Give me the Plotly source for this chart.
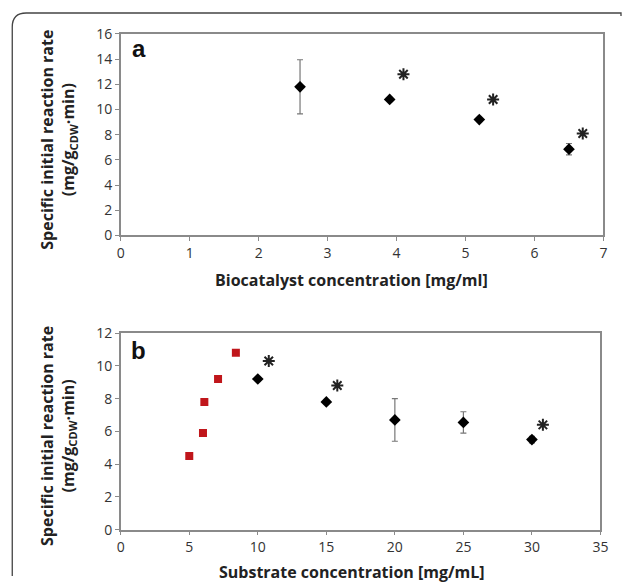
import plotly.graph_objects as go

W, H = 629, 585

# Panel a data
a_x = [2.6, 3.9, 5.2, 6.5]
a_y = [11.8, 10.8, 9.2, 6.85]
a_err = [2.15, 0.1, 0.1, 0.45]
a_star_x = [4.1, 5.4, 6.7]
a_star_y = [12.8, 10.8, 8.1]

# Panel b data
b_red_x = [5.0, 6.0, 6.1, 7.1, 8.4]
b_red_y = [4.5, 5.9, 7.8, 9.2, 10.8]
b_x = [10, 15, 20, 25, 30]
b_y = [9.2, 7.8, 6.7, 6.55, 5.5]
b_err = [0.1, 0.1, 1.3, 0.65, 0.2]
b_star_x = [10.8, 15.8, 30.8]
b_star_y = [10.3, 8.8, 6.4]

a_xticks = [0, 1, 2, 3, 4, 5, 6, 7]
a_yticks = [0, 2, 4, 6, 8, 10, 12, 14, 16]
b_xticks = [0, 5, 10, 15, 20, 25, 30, 35]
b_yticks = [0, 2, 4, 6, 8, 10, 12]

FONT = "Open Sans"


def px_x(p):
    # target pixel -> paper fraction (with empirical viewport correction)
    return min(max(((p - 1.7) / 0.9856) / W, 0), 1)


def px_y(p):
    return min(max(1 - ((p - 9) / 0.97) / H, 0), 1)


fig = go.Figure()

marker_d = dict(symbol="diamond", size=9, color="black")
err_style = dict(type="data", thickness=1.2, width=3, color="#777")
star_marker = dict(symbol="asterisk-open", size=10, color="#222", line=dict(width=2, color="#222"))

fig.add_trace(go.Scatter(x=a_x, y=a_y, mode="markers", marker=marker_d,
                         error_y=dict(array=a_err, **err_style),
                         xaxis="x", yaxis="y", showlegend=False))
fig.add_trace(go.Scatter(x=a_star_x, y=a_star_y, mode="markers", marker=star_marker,
                         xaxis="x", yaxis="y", showlegend=False))

fig.add_trace(go.Scatter(x=b_red_x, y=b_red_y, mode="markers",
                         marker=dict(symbol="square", size=8, color="#c0161b"),
                         xaxis="x2", yaxis="y2", showlegend=False))
fig.add_trace(go.Scatter(x=b_x, y=b_y, mode="markers", marker=marker_d,
                         error_y=dict(array=b_err, **err_style),
                         xaxis="x2", yaxis="y2", showlegend=False))
fig.add_trace(go.Scatter(x=b_star_x, y=b_star_y, mode="markers", marker=star_marker,
                         xaxis="x2", yaxis="y2", showlegend=False))

axis_common = dict(showgrid=False, zeroline=False, showline=True, linecolor="#8a8a8a",
                   linewidth=1.5, mirror=True, ticks="outside", ticklen=4,
                   tickcolor="#8a8a8a", tickfont=dict(family=FONT, size=14, color="#333"))

fig.update_layout(
    width=W, height=H,
    margin=dict(l=0, r=0, t=0, b=0),
    paper_bgcolor="white", plot_bgcolor="white",
    xaxis=dict(domain=[px_x(119), px_x(604)], range=[0, 7], tickvals=a_xticks,
               anchor="y", **axis_common),
    yaxis=dict(domain=[px_y(235), px_y(33)], range=[0, 16], tickvals=a_yticks,
               anchor="x", **axis_common),
    xaxis2=dict(domain=[px_x(119), px_x(601)], range=[0, 35], tickvals=b_xticks,
                anchor="y2", **axis_common),
    yaxis2=dict(domain=[px_y(530), px_y(333)], range=[0, 12], tickvals=b_yticks,
                anchor="x2", **axis_common),
)

title_font = dict(family=FONT, size=16, color="#222", weight="bold")
ytitle = "Specific initial reaction rate<br>(mg/g<sub>CDW</sub>·min)"

anns = [
    dict(text="Biocatalyst concentration [mg/ml]", x=px_x(351), y=px_y(280), font=title_font),
    dict(text="Substrate concentration [mg/mL]", x=px_x(351), y=px_y(572), font=title_font),
    dict(text=ytitle, x=px_x(56), y=px_y(139), textangle=-90, font=title_font),
    dict(text=ytitle, x=px_x(56), y=px_y(436), textangle=-90, font=title_font),
    dict(text="a", x=px_x(137), y=px_y(48), font=dict(family="Liberation Sans", size=24, color="#111", weight="bold")),
    dict(text="b", x=px_x(137), y=px_y(350), font=dict(family="Liberation Sans", size=24, color="#111", weight="bold")),
]
fig.update_layout(annotations=[dict(xref="paper", yref="paper", showarrow=False,
                                    xanchor="center", yanchor="middle", **a) for a in anns])

# outer rounded frame
x0, yt, r = 10, 12, 14
path = (f"M {px_x(x0)},{px_y(H + 20)} L {px_x(x0)},{px_y(yt + r)} "
        f"Q {px_x(x0)},{px_y(yt)} {px_x(x0 + r)},{px_y(yt)} L {px_x(624)},{px_y(yt)} "
        f"Q {px_x(627)},{px_y(yt)} {px_x(627)},{px_y(yt + 3)}")
fig.add_shape(type="path", path=path, xref="paper", yref="paper",
              line=dict(color="#444", width=1.3))

fig.write_html("out.html", config={"responsive": False, "displayModeBar": False},
               post_script="document.body.style.margin='0';document.body.style.overflow='hidden';")
